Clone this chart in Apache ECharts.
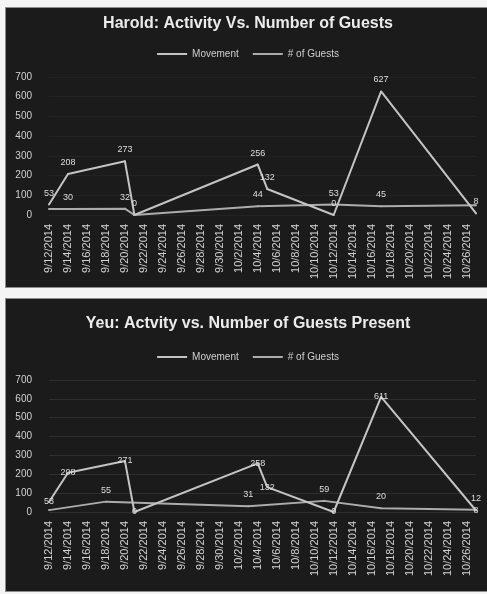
<!DOCTYPE html>
<html>
<head>
<meta charset="utf-8">
<script src="https://cdn.jsdelivr.net/npm/echarts@6/dist/echarts.min.js"></script>
<style>
  html, body { margin: 0; padding: 0; background: #f4f4f4; }
  body { width: 487px; height: 594px; position: relative; overflow: hidden; }
  .panel {
    position: absolute; left: 5px; width: 486px;
    background: #1b1b1b; border: 1px solid #8c8c8c; box-sizing: border-box;
  }
  #harold { top: 7px; height: 281px; }
  #yeu { top: 298px; height: 294px; }
</style>
</head>
<body>
<div id="harold" class="panel"></div>
<div id="yeu" class="panel"></div>
<script>
// Calendar days on the date axis (labelled every second day)
const days = [
  '9/12/2014','9/13/2014','9/14/2014','9/15/2014','9/16/2014','9/17/2014','9/18/2014','9/19/2014',
  '9/20/2014','9/21/2014','9/22/2014','9/23/2014','9/24/2014','9/25/2014','9/26/2014','9/27/2014',
  '9/28/2014','9/29/2014','9/30/2014','10/1/2014','10/2/2014','10/3/2014','10/4/2014','10/5/2014',
  '10/6/2014','10/7/2014','10/8/2014','10/9/2014','10/10/2014','10/11/2014','10/12/2014','10/13/2014',
  '10/14/2014','10/15/2014','10/16/2014','10/17/2014','10/18/2014','10/19/2014','10/20/2014','10/21/2014',
  '10/22/2014','10/23/2014','10/24/2014','10/25/2014','10/26/2014','10/27/2014'
];
const yTicks = [0, 100, 200, 300, 400, 500, 600, 700];

// Harold
const haroldMoveDates = ['9/12/2014','9/14/2014','9/20/2014','9/21/2014','10/4/2014','10/5/2014','10/12/2014','10/17/2014','10/27/2014'];
const haroldMovement  = [53, 208, 273, 0, 256, 132, 0, 627, 8];
const haroldGuestDates = ['9/12/2014','9/14/2014','9/20/2014','9/21/2014','10/4/2014','10/12/2014','10/17/2014','10/27/2014'];
const haroldGuests     = [30, 30, 32, 0, 44, 53, 45, 50];

// Yeu
const yeuMoveDates = ['9/12/2014','9/14/2014','9/20/2014','9/21/2014','10/4/2014','10/5/2014','10/12/2014','10/17/2014','10/27/2014'];
const yeuMovement  = [53, 208, 271, 0, 258, 132, 0, 611, 8];
const yeuGuestDates = ['9/12/2014','9/18/2014','10/3/2014','10/11/2014','10/17/2014','10/27/2014'];
const yeuGuests     = [10, 55, 31, 59, 20, 12];

const seriesNames = ['Movement', '# of Guests'];

function pairs(dates, values) {
  return dates.map((d, i) => [d, values[i]]);
}

function makeOption(o) {
  const font = 'Liberation Sans';
  const lineSeries = (name, data, color, labelPos) => ({
    name, type: 'line', data,
    symbol: 'circle', symbolSize: 2,
    lineStyle: { color, width: 2 },
    itemStyle: { color },
    label: {
      show: true, position: labelPos, distance: 6,
      color: '#dedede', fontSize: 9, fontFamily: font
    },
    labelLayout: { hideOverlap: true },
    z: name === 'Movement' ? 3 : 2
  });
  return {
    animation: false,
    backgroundColor: 'transparent',
    title: {
      text: o.title, left: 'center', top: o.titleTop,
      textStyle: { color: '#ececec', fontSize: 16, fontWeight: 'bold', fontFamily: font }
    },
    legend: {
      data: seriesNames, top: o.legendTop, left: 'center',
      icon: 'rect', itemWidth: 30, itemHeight: 2, itemGap: 14,
      textStyle: { color: '#cfcfcf', fontSize: 10, fontFamily: font }
    },
    grid: { left: 43, right: 14, top: o.gridTop, height: o.gridHeight },
    xAxis: {
      type: 'category', data: days, boundaryGap: false,
      axisLine: { show: false }, axisTick: { show: false },
      axisLabel: { interval: 1, rotate: 90, color: '#d2d2d2', fontSize: 11, fontFamily: font, margin: 9 }
    },
    yAxis: {
      type: 'value', min: yTicks[0], max: yTicks[yTicks.length - 1], interval: 100,
      axisLine: { show: false }, axisTick: { show: false },
      axisLabel: { color: '#d2d2d2', fontSize: 10, fontFamily: font, margin: 17 },
      splitLine: { lineStyle: { color: o.gridColor, width: 1 } }
    },
    series: [
      lineSeries('Movement', o.movement, '#c4c4c4', o.moveLabel),
      lineSeries('# of Guests', o.guests, '#acacac', 'top')
    ]
  };
}

echarts.init(document.getElementById('harold')).setOption(makeOption({
  title: 'Harold: Activity Vs. Number of Guests',
  titleTop: 3, legendTop: 36, gridTop: 69, gridHeight: 138, gridColor: '#232323',
  movement: pairs(haroldMoveDates, haroldMovement),
  guests: pairs(haroldGuestDates, haroldGuests),
  moveLabel: 'top'
}));

echarts.init(document.getElementById('yeu')).setOption(makeOption({
  title: 'Yeu: Actvity vs. Number of Guests Present',
  titleTop: 12, legendTop: 48, gridTop: 81, gridHeight: 132, gridColor: '#2e2e2e',
  movement: pairs(yeuMoveDates, yeuMovement),
  guests: pairs(yeuGuestDates, yeuGuests),
  moveLabel: 'inside'
}));
</script>
</body>
</html>
